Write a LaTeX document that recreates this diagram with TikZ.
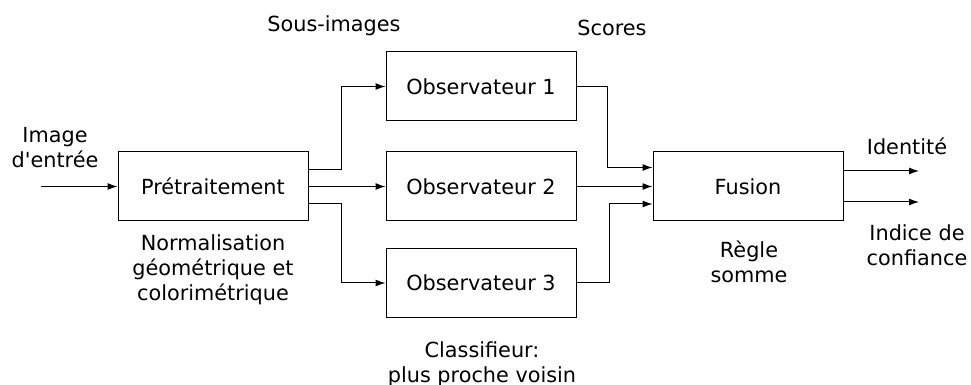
\documentclass[tikz,border=0pt]{standalone}
\usepackage{fontspec}
\setmainfont{DejaVu Sans}
\usetikzlibrary{arrows.meta, positioning}

\tikzset{
	bloc/.style={draw, line width=0.5pt, minimum width=95pt, minimum height=34.5pt, inner sep=0pt},
	legende/.style={align=center, inner sep=0pt},
	fleche/.style={-{Latex[length=5pt, width=3.5pt]}, line width=0.5pt}
}

\begin{document}
\begin{tikzpicture}[x=0.5pt, y=-0.5pt, font=\fontsize{10.4}{12.5}\selectfont]
	\useasboundingbox (0,0) rectangle (971,385);

	\node[bloc] (pre) at (213,186.5) {Prétraitement};
	\node[bloc] (obs1) at (481,86.5) {Observateur 1};
	\node[bloc] (obs2) at (481,186.5) {Observateur 2};
	\node[bloc] (obs3) at (481,283) {Observateur 3};
	\node[bloc] (fus) at (748,186.5) {Fusion};

	\coordinate (entree) at (41,186.5);
	\coordinate (sortie1) at (919,171);
	\coordinate (sortie2) at (919,202);

	\node[legende] (img) at (55,147.5) {Image\\d\textquotesingle entrée};
	\node[legende] (norm) at (213,270) {Normalisation\\géométrique et\\colorimétrique};
	\node[legende] (sous) at (334,26) {Sous-images};
	\node[legende] (scores) at (612,28) {Scores};
	\node[legende] (classif) at (482,364) {Classifieur:\\plus proche voisin};
	\node[legende] (regle) at (749,262) {Règle\\somme};
	\node[legende] (ident) at (907,146) {Identité};
	\node[legende] (indice) at (917,245) {Indice de\\confiance};

	% entree -> pretraitement -> observateurs
	\draw[fleche] (entree) -- (pre.west);
	\draw[fleche] ([yshift=8.5pt]pre.east) -- ++(33,0) |- (obs1.west);
	\draw[fleche] (pre.east) -- (obs2.west);
	\draw[fleche] ([yshift=-8.5pt]pre.east) -- ++(33,0) |- (obs3.west);

	% observateurs -> fusion
	\draw[fleche] (obs1.east) -- ++(31,0) |- ([yshift=9.5pt]fus.west);
	\draw[fleche] (obs2.east) -- (fus.west);
	\draw[fleche] (obs3.east) -- ++(33,0) |- ([yshift=-8.75pt]fus.west);

	% sorties
	\draw[fleche] ([yshift=7.75pt]fus.east) -- (sortie1);
	\draw[fleche] ([yshift=-7.75pt]fus.east) -- (sortie2);
\end{tikzpicture}
\end{document}
